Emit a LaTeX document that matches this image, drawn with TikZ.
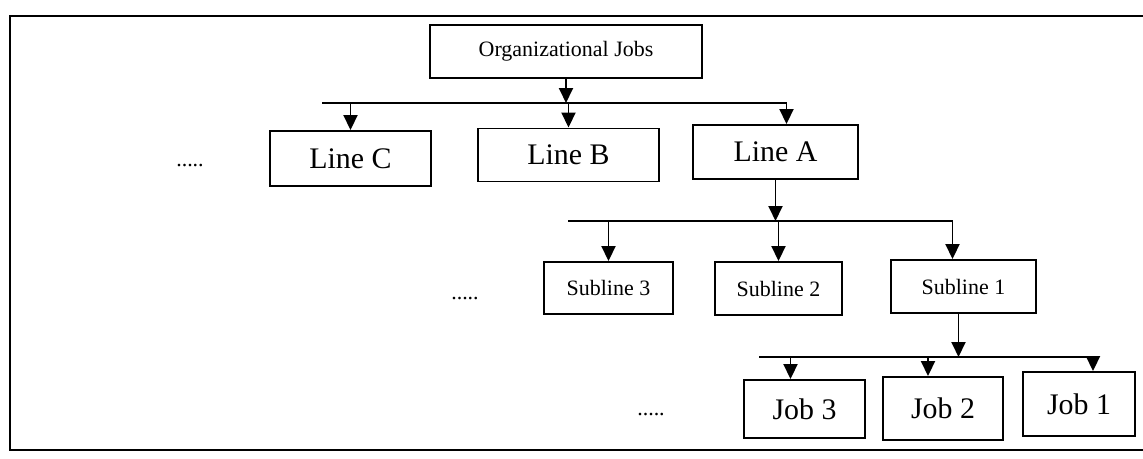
\documentclass[tikz,border=0pt]{standalone}
\usepackage{fontspec}
\setmainfont{Liberation Serif}
\usepackage{tikz}
\usetikzlibrary{arrows.meta}

\begin{document}
\begin{tikzpicture}[x=0.02cm,y=-0.02cm,line width=1.1pt,
                    >={Triangle[length=3mm,width=2.8mm]}]
	\tikzstyle{box}=[draw=black,fill=white,text=black,inner sep=0pt]
	\tikzstyle{small}=[font=\fontsize{12.5}{15}\selectfont]
	\tikzstyle{big}=[font=\fontsize{17}{20}\selectfont]

	\useasboundingbox (0,0) rectangle (1143,459);
	\draw (10,16) rectangle (1170,450);

	\node[box,small,minimum width=5.44cm,minimum height=1.06cm]	(org)	at (566,51.5)	{Organizational Jobs};

	\node[box,big,minimum width=3.22cm,minimum height=1.1cm]	(lineC)	at (350.5,158.5)	{Line C};
	\node[box,big,minimum width=3.62cm,minimum height=1.06cm]	(lineB)	at (568.5,155)	{Line B};
	\node[box,big,minimum width=3.3cm,minimum height=1.08cm]	(lineA)	at (775.5,152)	{Line A};

	\node[box,small,minimum width=2.58cm,minimum height=1.04cm]	(sub3)	at (608.5,288)	{Subline 3};
	\node[box,small,minimum width=2.54cm,minimum height=1.06cm]	(sub2)	at (778.5,288.5)	{Subline 2};
	\node[box,small,minimum width=2.9cm,minimum height=1.06cm]	(sub1)	at (963.5,286.5)	{Subline 1};

	\node[box,big,minimum width=2.42cm,minimum height=1.16cm]	(job3)	at (804.5,409)	{Job 3};
	\node[box,big,minimum width=2.4cm,minimum height=1.26cm]	(job2)	at (943,408.5)	{Job 2};
	\node[box,big,minimum width=2.24cm,minimum height=1.28cm]	(job1)	at (1079,404)	{Job 1};

	\node[small]	(dotsLine)	at (190,166)	{.....};
	\node[small]	(dotsSub)	at (465,299)	{.....};
	\node[small]	(dotsJob)	at (651,415)	{.....};

	% bars
	\coordinate (lineBar)	at (322,103);
	\coordinate (subBar)	at (568,221);
	\coordinate (jobBar)	at (759,357);

	\draw[->] (org.south) -- (org.south |- lineBar);
	\draw (lineBar) -- ([xshift=0.22cm]lineA.north |- lineBar);
	\draw[->] (lineC.north |- lineBar) -- (lineC.north);
	\draw[->] (lineB.north |- lineBar) -- (lineB.north);
	\draw[->] ([xshift=0.22cm]lineA.north |- lineBar) -- ([xshift=0.22cm]lineA.north);

	\draw[->] (lineA.south) -- (lineA.south |- subBar);
	\draw (subBar) -- ([xshift=-0.22cm]sub1.north |- subBar);
	\draw[->] (sub3.north |- subBar) -- (sub3.north);
	\draw[->] (sub2.north |- subBar) -- (sub2.north);
	\draw[->] ([xshift=-0.22cm]sub1.north |- subBar) -- ([xshift=-0.22cm]sub1.north);

	\draw[->] ([xshift=-0.1cm]sub1.south) -- ([xshift=-0.1cm]sub1.south |- jobBar);
	\draw (jobBar) -- ([xshift=0.36cm]job1.north |- jobBar);
	\draw[->] ([xshift=-0.28cm]job3.north |- jobBar) -- ([xshift=-0.28cm]job3.north);
	\draw[->] ([xshift=-0.3cm]job2.north |- jobBar) -- ([xshift=-0.3cm]job2.north);
	\draw[->] ([xshift=0.28cm]job1.north |- jobBar) -- ([xshift=0.28cm]job1.north);
\end{tikzpicture}
\end{document}
